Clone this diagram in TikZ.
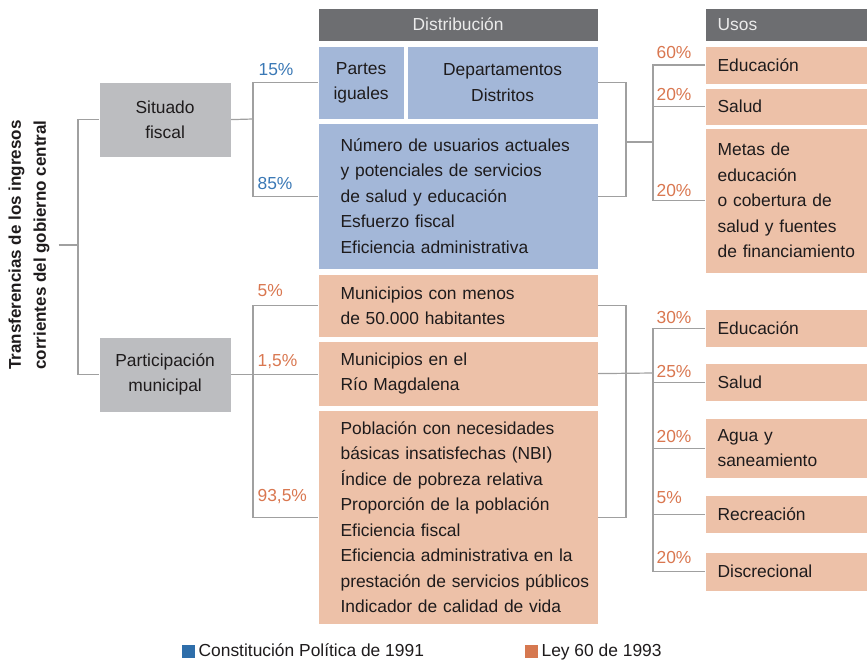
\documentclass[tikz,border=0pt]{standalone}
\usepackage{fontspec}
\setmainfont{Liberation Sans}
\definecolor{ink}{RGB}{30,27,28}
\definecolor{headgray}{RGB}{109,110,113}
\definecolor{boxgray}{RGB}{188,189,192}
\definecolor{boxblue}{RGB}{163,183,216}
\definecolor{boxpeach}{RGB}{237,193,168}
\definecolor{pctblue}{RGB}{58,120,181}
\definecolor{pctorange}{RGB}{217,119,80}
\definecolor{keyblue}{RGB}{46,110,170}
\definecolor{keyorange}{RGB}{214,120,80}
\definecolor{lines}{RGB}{160,160,160}
\begin{document}
\begin{tikzpicture}[x=1pt,y=-1pt,line width=1.2pt]

	\def \txt{\fontsize{17.4}{25.5}\selectfont}
	\def \usosx{705}
	\tikzstyle{box}=[anchor=north west,inner ysep=0pt,text=ink,font=\txt]
	\tikzstyle{dbox}=[box,align=left,inner xsep=22pt,text width=235pt,minimum width=279pt]
	\tikzstyle{ubox}=[box,fill=boxpeach,align=left,inner xsep=12pt,text width=138pt,minimum width=162pt]
	\tikzstyle{hbox}=[box,fill=headgray,text={white!92!black},minimum height=32pt]
	\tikzstyle{gbox}=[box,fill=boxgray,align=center,minimum width=131pt,minimum height=74pt]
	\tikzstyle{pct}=[anchor=base west,inner sep=0pt,font=\txt]
	\tikzstyle{link}=[draw=lines]
	\tikzstyle{key}=[anchor=north west,inner sep=0pt,minimum size=13pt]
	\useasboundingbox (0,0) rectangle (867,661);

	% title
	\node[rotate=90,align=center,inner xsep=0pt,inner ysep=8.5pt,text=ink,font=\fontsize{17}{25}\selectfont\bfseries] (ttl) at (29,245) {Transferencias de los ingresos\\corrientes del gobierno central};
	\node[gbox] (sf) at (99,82) {Situado\\fiscal};
	\node[gbox] (pm) at (99,337) {Participación\\municipal};

	% distribucion
	\node[hbox,minimum width=279pt] (hdist) at (318,8) {Distribución};
	\node[box,fill=boxblue,align=center,minimum width=85pt,minimum height=72pt] (partes) at (318,46) {Partes\\iguales};
	\node[box,fill=boxblue,align=center,minimum width=190pt,minimum height=72pt] (depto) at (407,46) {Departamentos\\Distritos};
	\node[dbox,fill=boxblue,minimum height=145pt] (crit) at (318,123) {Número de usuarios actuales\\y potenciales de servicios\\de salud y educación\\Esfuerzo fiscal\\Eficiencia administrativa};
	\node[dbox,fill=boxpeach,minimum height=62pt] (muni50) at (318,274) {Municipios con menos\\de 50.000 habitantes};
	\node[dbox,fill=boxpeach,minimum height=64pt] (rio) at (318,341) {Municipios en el\\Río Magdalena};
	\node[dbox,fill=boxpeach,minimum height=213pt] (nbi) at (318,410) {Población con necesidades\\básicas insatisfechas (NBI)\\Índice de pobreza relativa\\Proporción de la población\\Eficiencia fiscal\\\mbox{Eficiencia administrativa en la}\\\mbox{prestación de servicios públicos}\\Indicador de calidad de vida};

	% usos
	\node[hbox,align=left,inner xsep=12pt,text width=138pt,minimum width=162pt] (husos) at (\usosx,8) {Usos};
	\node[ubox,minimum height=37pt] (edu1) at (\usosx,46) {Educación};
	\node[ubox,minimum height=36pt] (sal1) at (\usosx,88) {Salud};
	\node[ubox,minimum height=144pt] (metas) at (\usosx,128) {Metas de\\educación\\o cobertura de\\salud y fuentes\\\mbox{de financiamiento}};
	\node[ubox,minimum height=37pt] (edu2) at (\usosx,309) {Educación};
	\node[ubox,minimum height=37pt] (sal2) at (\usosx,363) {Salud};
	\node[ubox,minimum height=59pt] (agua) at (\usosx,418) {Agua y\\saneamiento};
	\node[ubox,minimum height=37pt] (recre) at (\usosx,495) {Recreación};
	\node[ubox,minimum height=38pt] (disc) at (\usosx,552) {Discrecional};

	% junctions
	\coordinate (j0) at (78,245);
	\coordinate (jsf) at (253,119);
	\coordinate (jpm) at (253,374);
	\coordinate (jd1) at (626,142);
	\coordinate (ju1) at (653,142);
	\coordinate (jd2) at (626,373);
	\coordinate (ju2) at (653,373);

	% connectors
	\draw[link] (ttl.south) -- (j0);
	\draw[link] (sf.west) -| (j0) |- (pm.west);
	\draw[link] (sf.east) -- (jsf);
	\draw[link] (partes.west) -| (jsf) |- (crit.west);
	\draw[link] (muni50.west) -| (jpm) |- (nbi.west);
	\draw[link] (pm.east) -- (pm.east -| rio.west);
	\draw[link] (depto.east) -| (jd1) |- (crit.east);
	\draw[link] (jd1) -- (ju1);
	\draw[link] (edu1.west) -| (ju1) |- (metas.west);
	\draw[link] (sal1.west) -- (sal1.west -| ju1);
	\draw[link] (muni50.east) -| (jd2) |- (nbi.east);
	\draw[link] (rio.east) -- (ju2);
	\draw[link] (edu2.west) -| (ju2) |- (disc.west);
	\foreach \n in {sal2,agua,recre}
		\draw[link] (\n.west) -- (\n.west -| ju2);

	% percentages
	\node[pct,text=pctblue] (p15) at (258,75) {15\%};
	\node[pct,text=pctblue] (p85) at (257,189) {85\%};
	\node[pct,text=pctorange] (p5) at (257,296) {5\%};
	\node[pct,text=pctorange] (p15b) at (257,366) {1,5\%};
	\node[pct,text=pctorange] (p935) at (257,501) {93,5\%};
	\node[pct,text=pctorange] (p60) at (656,59) {60\%};
	\node[pct,text=pctorange] (p20a) at (656,100) {20\%};
	\node[pct,text=pctorange] (p20b) at (656,196) {20\%};
	\node[pct,text=pctorange] (p30) at (656,323) {30\%};
	\node[pct,text=pctorange] (p25) at (656,377) {25\%};
	\node[pct,text=pctorange] (p20c) at (656,442) {20\%};
	\node[pct,text=pctorange] (p5b) at (656,503) {5\%};
	\node[pct,text=pctorange] (p20d) at (656,563) {20\%};

	% legend
	\node[key,fill=keyblue] (kblue) at (181,644) {};
	\node[pct,text=ink] (lblue) at (198,656) {Constitución Política de 1991};
	\node[key,fill=keyorange] (korange) at (524,644) {};
	\node[pct,text=ink] (lorange) at (541,656) {Ley 60 de 1993};
\end{tikzpicture}
\end{document}
